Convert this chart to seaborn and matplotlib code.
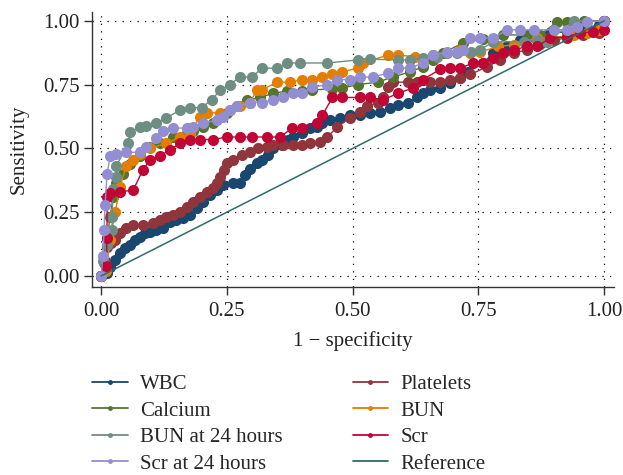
import matplotlib
matplotlib.use("Agg")
import matplotlib.pyplot as plt
import seaborn as sns
from matplotlib.lines import Line2D

# ROC points (1 - specificity, sensitivity)
wbc_x = [0, 0.012, 0.018, 0.028, 0.038, 0.048, 0.058, 0.068, 0.078, 0.087,
         0.097, 0.11, 0.124, 0.137, 0.15, 0.163, 0.177, 0.19, 0.203, 0.217,
         0.23, 0.243, 0.262, 0.276, 0.286, 0.296, 0.31, 0.32, 0.332, 0.342,
         0.36, 0.372, 0.382, 0.40, 0.415, 0.43, 0.44, 0.455, 0.475, 0.495,
         0.515, 0.535, 0.555, 0.575, 0.59, 0.61, 0.628, 0.64, 0.654, 0.674,
         0.694, 0.714, 0.73, 0.76, 0.78, 0.807, 0.833, 0.86, 0.893, 0.926,
         0.966, 0.99, 1.0]
wbc_y = [0, 0.01, 0.035, 0.063, 0.09, 0.11, 0.12, 0.14, 0.153, 0.17,
         0.172, 0.18, 0.19, 0.21, 0.22, 0.227, 0.24, 0.267, 0.29, 0.318,
         0.337, 0.357, 0.365, 0.365, 0.396, 0.42, 0.443, 0.455, 0.475, 0.50,
         0.514, 0.533, 0.545, 0.56, 0.58, 0.585, 0.60, 0.61, 0.62, 0.63,
         0.63, 0.64, 0.643, 0.66, 0.67, 0.68, 0.70, 0.716, 0.73, 0.737,
         0.755, 0.776, 0.80, 0.835, 0.875, 0.90, 0.925, 0.937, 0.953, 0.957,
         0.973, 0.984, 1.0]

plt_x = [0, 0.008, 0.012, 0.02, 0.028, 0.038, 0.05, 0.064, 0.083, 0.103,
         0.117, 0.13, 0.143, 0.157, 0.17, 0.183, 0.197, 0.21, 0.223, 0.23,
         0.237, 0.245, 0.25, 0.262, 0.28, 0.296, 0.312, 0.33, 0.342, 0.362,
         0.382, 0.40, 0.415, 0.435, 0.45, 0.47, 0.495, 0.515, 0.528, 0.55,
         0.56, 0.57, 0.58, 0.61, 0.628, 0.654, 0.674, 0.694, 0.714, 0.734,
         0.767, 0.793, 0.82, 0.847, 0.873, 0.9, 0.926, 0.958, 0.99, 1.0]
plt_y = [0, 0.06, 0.115, 0.13, 0.14, 0.17, 0.188, 0.20, 0.20, 0.207,
         0.22, 0.23, 0.24, 0.25, 0.27, 0.29, 0.31, 0.33, 0.345, 0.365,
         0.39, 0.415, 0.443, 0.455, 0.475, 0.486, 0.50, 0.506, 0.514, 0.514,
         0.514, 0.514, 0.52, 0.525, 0.545, 0.585, 0.62, 0.643, 0.665, 0.68,
         0.70, 0.74, 0.76, 0.76, 0.76, 0.76, 0.76, 0.77, 0.776, 0.79,
         0.82, 0.847, 0.875, 0.886, 0.91, 0.925, 0.933, 0.945, 0.953, 1.0]

cal_x = [0, 0.006, 0.012, 0.018, 0.024, 0.03, 0.044, 0.058, 0.078, 0.097, 0.117, 0.143, 0.17, 0.183,
         0.203, 0.223, 0.25, 0.27, 0.29, 0.316, 0.342, 0.37, 0.40, 0.42, 0.46, 0.48, 0.51, 0.55, 0.58,
         0.614, 0.64, 0.66, 0.68, 0.72, 0.76, 0.80, 0.847, 0.873, 0.906, 0.926, 0.96, 1.0]
cal_y = [0, 0.05, 0.15, 0.23, 0.31, 0.365, 0.40, 0.44, 0.47, 0.505, 0.52, 0.545, 0.56, 0.57,
         0.585, 0.60, 0.64, 0.665, 0.69, 0.70, 0.716, 0.725, 0.725, 0.73, 0.733, 0.737, 0.75, 0.76, 0.78,
         0.80, 0.82, 0.847, 0.875, 0.914, 0.93, 0.945, 0.945, 0.945, 0.996, 0.996, 1.0, 1.0]

bun_x = [0, 0.01, 0.018, 0.028, 0.038, 0.05, 0.064, 0.078, 0.097, 0.13, 0.157, 0.177, 0.197, 0.21,
         0.237, 0.256, 0.276, 0.296, 0.31, 0.32, 0.35, 0.376, 0.40, 0.42, 0.44, 0.46, 0.48, 0.51, 0.52,
         0.57, 0.59, 0.624, 0.66, 0.714, 0.734, 0.753, 0.79, 0.82, 0.867, 0.893, 0.94, 0.966, 0.99, 1.0]
bun_y = [0, 0.02, 0.14, 0.25, 0.35, 0.43, 0.455, 0.48, 0.50, 0.52, 0.545, 0.56, 0.625, 0.64,
         0.64, 0.65, 0.665, 0.68, 0.73, 0.73, 0.76, 0.76, 0.77, 0.77, 0.78, 0.79, 0.80, 0.815, 0.835,
         0.866, 0.866, 0.86, 0.866, 0.886, 0.875, 0.878, 0.90, 0.906, 0.933, 0.933, 0.945, 0.953, 0.965, 1.0]

bun24_x = [0, 0.004, 0.012, 0.022, 0.022, 0.024, 0.03, 0.03, 0.054, 0.058, 0.078, 0.09, 0.11, 0.13,
           0.157, 0.177, 0.20, 0.22, 0.237, 0.256, 0.276, 0.30, 0.32, 0.35, 0.37, 0.395, 0.45, 0.51,
           0.535, 0.59, 0.614, 0.64, 0.668, 0.688, 0.708, 0.735, 0.753, 0.78, 0.84, 0.867, 0.887, 0.94,
           1.0]
bun24_y = [0, 0.06, 0.12, 0.18, 0.23, 0.34, 0.39, 0.43, 0.52, 0.565, 0.585, 0.588, 0.60, 0.62,
           0.65, 0.66, 0.66, 0.69, 0.73, 0.75, 0.78, 0.78, 0.815, 0.815, 0.835, 0.835, 0.835, 0.847,
           0.85, 0.847, 0.847, 0.855, 0.86, 0.875, 0.875, 0.878, 0.886, 0.918, 0.918, 0.925, 0.918, 1.0,
           1.0]

scr_x = [0, 0.01, 0.012, 0.012, 0.018, 0.038, 0.064, 0.083, 0.097, 0.117, 0.137, 0.157, 0.177, 0.197,
         0.223, 0.25, 0.276, 0.30, 0.33, 0.356, 0.38, 0.40, 0.43, 0.44, 0.46, 0.48, 0.515, 0.535, 0.56,
         0.59, 0.62, 0.64, 0.674, 0.694, 0.714, 0.74, 0.76, 0.78, 0.80, 0.82, 0.847, 0.867, 0.893, 0.926,
         0.952, 0.978, 1.0, 1.0]
scr_y = [0, 0.04, 0.15, 0.31, 0.325, 0.33, 0.337, 0.415, 0.455, 0.47, 0.495, 0.52, 0.535, 0.535,
         0.535, 0.545, 0.545, 0.545, 0.545, 0.545, 0.58, 0.58, 0.60, 0.63, 0.70, 0.70, 0.70, 0.70, 0.69,
         0.716, 0.737, 0.77, 0.81, 0.815, 0.815, 0.835, 0.835, 0.855, 0.875, 0.886, 0.90, 0.90, 0.933, 0.937,
         0.953, 0.957, 0.965, 1.0]

scr24_x = [0, 0.004, 0.006, 0.008, 0.012, 0.018, 0.03, 0.05, 0.078, 0.09, 0.11, 0.124, 0.143, 0.17,
           0.183, 0.203, 0.23, 0.243, 0.256, 0.27, 0.296, 0.32, 0.342, 0.362, 0.382, 0.40, 0.42, 0.45,
           0.47, 0.495, 0.515, 0.54, 0.57, 0.59, 0.614, 0.64, 0.66, 0.688, 0.708, 0.72, 0.734, 0.753,
           0.78, 0.807, 0.833, 0.86, 0.90, 0.926, 0.946, 0.966, 1.0]
scr24_y = [0, 0.08, 0.18, 0.28, 0.40, 0.47, 0.48, 0.485, 0.485, 0.505, 0.54, 0.57, 0.58, 0.58,
           0.585, 0.60, 0.61, 0.625, 0.65, 0.665, 0.68, 0.68, 0.69, 0.70, 0.716, 0.716, 0.74, 0.75,
           0.77, 0.77, 0.78, 0.78, 0.795, 0.815, 0.815, 0.835, 0.866, 0.88, 0.88, 0.886, 0.933, 0.933,
           0.933, 0.965, 0.965, 0.965, 0.965, 0.965, 0.976, 0.996, 1.0]

names = ["WBC", "Platelets", "Calcium", "BUN", "BUN at 24 hours", "Scr", "Scr at 24 hours"]
xs = [wbc_x, plt_x, cal_x, bun_x, bun24_x, scr_x, scr24_x]
ys = [wbc_y, plt_y, cal_y, bun_y, bun24_y, scr_y, scr24_y]
colors = ["#1a476f", "#90353b", "#55752f", "#e37e00", "#6e8e84", "#c10534", "#938dd2"]
ref_color = "#2d6d66"

sns.set_style("white")
plt.rcParams["font.family"] = ["Liberation Serif", "DejaVu Serif"]
fs = 15

fig = plt.figure(figsize=(6.23, 4.75), dpi=100)
ax = fig.add_axes([0.1477, 0.3958, 0.838, 0.579])

for name, x, y, c in zip(names, xs, ys, colors):
    sns.lineplot(x=x, y=y, ax=ax, estimator=None, sort=False, color=c, linewidth=1,
                 marker="o", markersize=8, markeredgewidth=0, legend=False)
sns.lineplot(x=[0, 1], y=[0, 1], ax=ax, estimator=None, sort=False, color=ref_color,
             linewidth=1.1, legend=False)

ax.set_xlim(-0.0179, 1.0199)
ax.set_ylim(-0.043, 1.035)
ticks = [0, 0.25, 0.5, 0.75, 1.0]
ax.set_xticks(ticks)
ax.set_yticks(ticks)
ax.set_xticklabels(["0.00", "0.25", "0.50", "0.75", "1.00"])
ax.set_yticklabels(["0.00", "0.25", "0.50", "0.75", "1.00"])
ax.grid(True, color="black", linestyle=(0, (1, 5)), linewidth=0.9)
ax.set_axisbelow(True)
for s in ["top", "right"]:
    ax.spines[s].set_visible(False)
for s in ["left", "bottom"]:
    ax.spines[s].set_color("#333333")
    ax.spines[s].set_linewidth(1)
ax.tick_params(direction="out", length=6, width=1, color="#333333", labelsize=fs,
               left=True, bottom=True, labelcolor="#222222")
ax.tick_params(axis="x", pad=5)
ax.tick_params(axis="y", pad=3)
ax.set_xlabel("1 \u2212 specificity", fontsize=fs, color="#222222", labelpad=7)
ax.set_ylabel("Sensitivity", fontsize=fs, color="#222222", labelpad=10)

# legend: Stata-style row-wise order -> column-major for matplotlib
order = ["WBC", "Calcium", "BUN at 24 hours", "Scr at 24 hours", "Platelets", "BUN", "Scr", "Reference"]
cmap = dict(zip(names, colors))
handles = []
for n in order:
    if n == "Reference":
        handles.append(Line2D([], [], color=ref_color, linewidth=1.3))
    else:
        handles.append(Line2D([], [], color=cmap[n], linewidth=1.3, marker="o", markersize=3.5,
                              markeredgewidth=0))
fig.legend(handles, order, loc="upper left", bbox_to_anchor=(0.135, 0.229), ncol=2,
           frameon=False, fontsize=fs, handlelength=1.7, columnspacing=3.35, labelspacing=0.33,
           handletextpad=0.6, borderaxespad=0)

fig.savefig("out.png", dpi=100)
